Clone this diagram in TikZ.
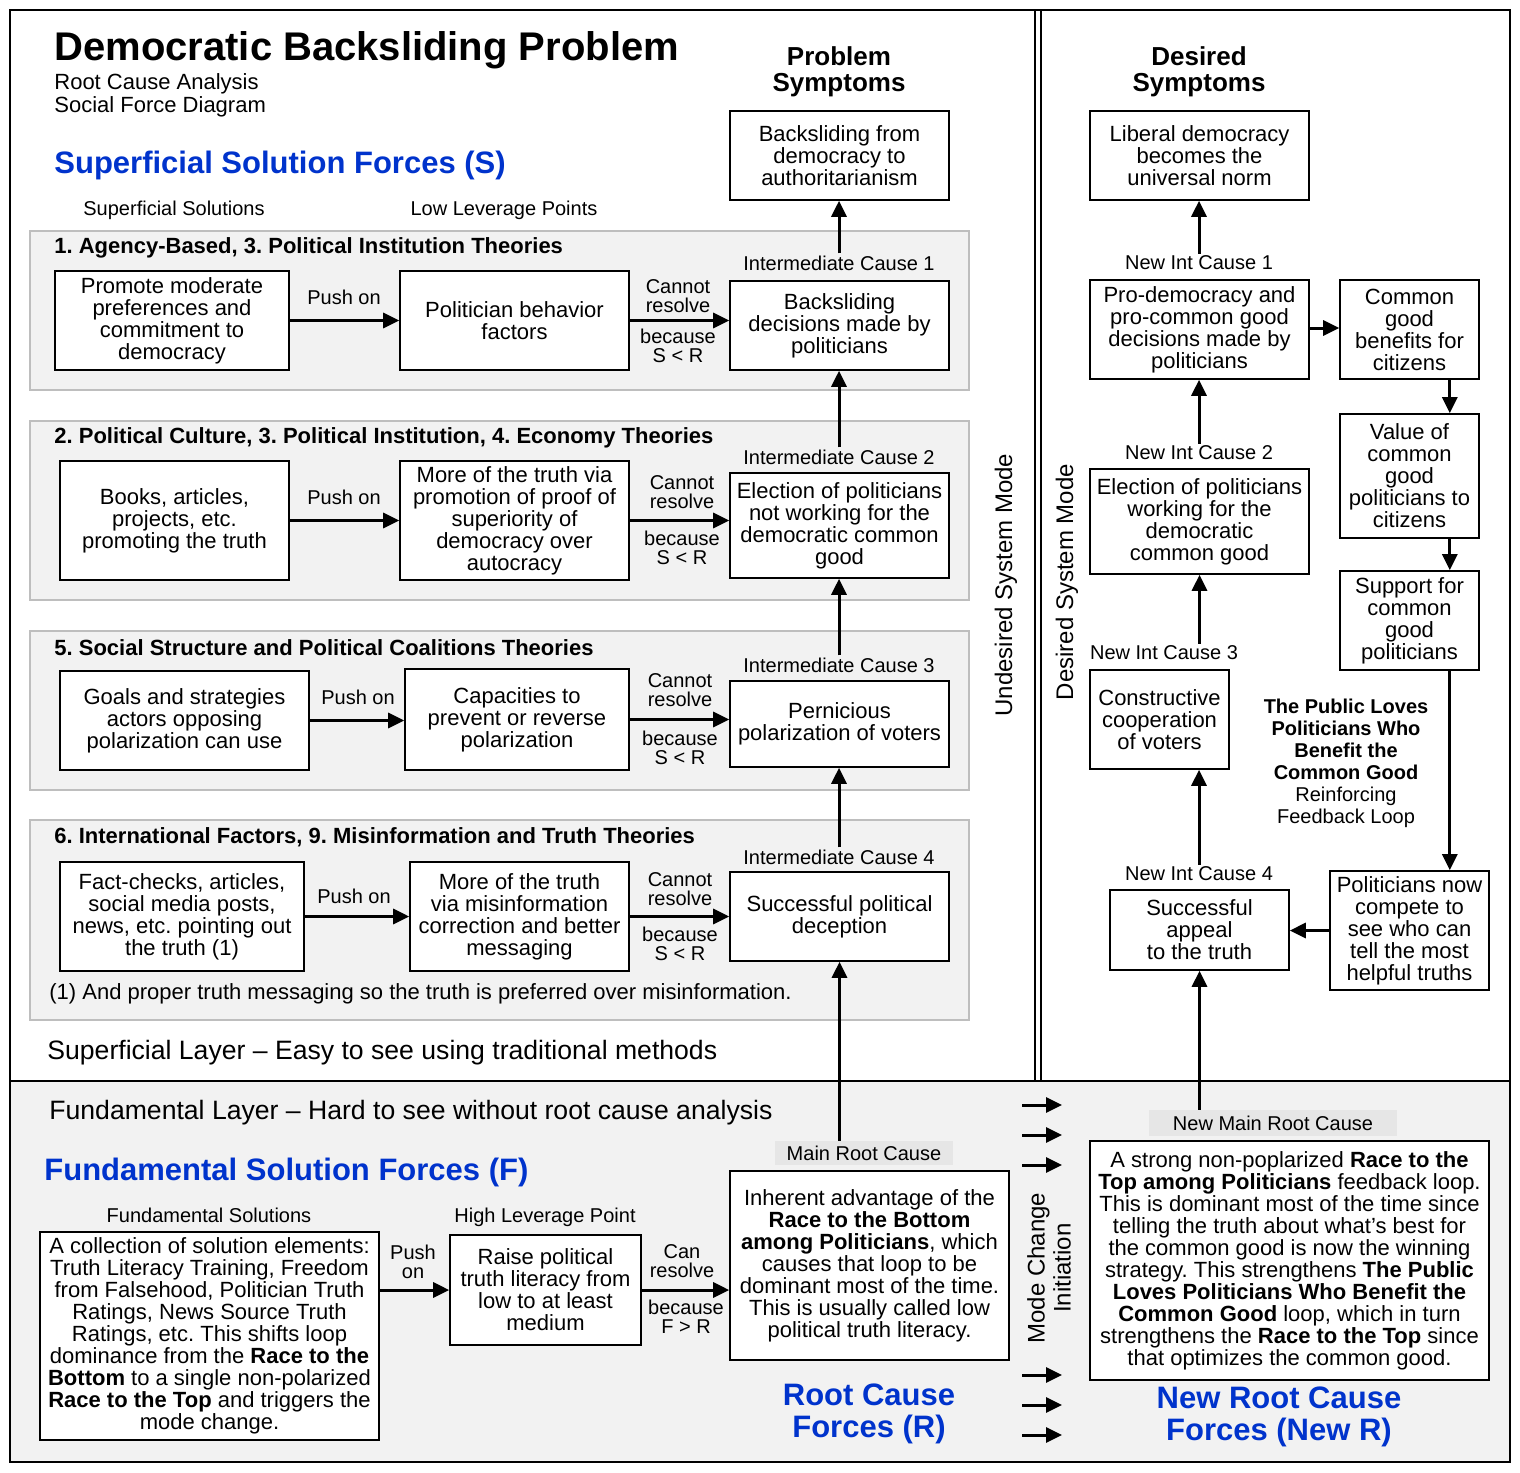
\documentclass[tikz,border=0pt]{standalone}
\usepackage{fontspec}
\setmainfont{Liberation Sans}
\usepackage{tikz}
\usetikzlibrary{arrows.meta,positioning,calc}
\definecolor{grisPanel}{RGB}{242,242,242}
\definecolor{grisBorde}{RGB}{190,190,190}
\definecolor{grisEtiqueta}{RGB}{230,230,230}
\definecolor{azulFuerza}{RGB}{0,51,204}
\tikzstyle{edge} =[-{Triangle[length=8pt,width=7.5pt]}, line width=1.5pt]
\tikzstyle{box}  =[draw, fill=white, line width=0.8pt, align=center,
                   inner sep=1pt, font=\fontsize{11}{11}\selectfont]
\tikzstyle{panel}=[draw=grisBorde, fill=grisPanel, line width=1pt]
\tikzstyle{tag}  =[align=center, inner sep=1pt]
\tikzstyle{small}=[tag, font=\fontsize{10}{9.5}\selectfont]
\tikzstyle{theory}=[anchor=west, inner sep=0pt,
                   font=\bfseries\fontsize{11}{11}\selectfont]
\tikzstyle{force}=[align=center, inner sep=0pt, text=azulFuerza,
                   font=\bfseries\fontsize{15.5}{16}\selectfont]
\tikzstyle{head} =[align=center, inner sep=0pt,
                   font=\bfseries\fontsize{13}{13}\selectfont]

\begin{document}
\frenchspacing
\begin{tikzpicture}[x=0.5pt, y=-0.5pt,
    every node/.style={font=\fontsize{10}{11}\selectfont}]
    \useasboundingbox (0,0) rectangle (1520,1472);

    % frame and layers
    \fill[grisPanel] (10,1081) rectangle (1510,1462);
    \draw[line width=1pt] (10,10) rectangle (1510,1462);
    \draw[line width=1pt] (10,1081) -- (1510,1081);
    \foreach \x in {1035,1041}
        \draw[line width=1pt] (\x,10) -- (\x,1081);

    % headings
    \node[anchor=base west, inner sep=0pt, font=\bfseries\fontsize{20}{22}\selectfont] (title) at (54,61) {Democratic Backsliding Problem};
    \node[anchor=base west, inner sep=0pt, font=\fontsize{11}{11.5}\selectfont] (sub1) at (54,89) {Root Cause Analysis};
    \node[anchor=base west, inner sep=0pt, font=\fontsize{11}{11.5}\selectfont] (sub2) at (54,112) {Social Force Diagram};
    \node[force, anchor=base west] (forceS) at (54,173) {Superficial Solution Forces (S)};
    \node[anchor=base, inner sep=0pt] (colsol) at (174,215) {Superficial Solutions};
    \node[anchor=base, inner sep=0pt] (collev) at (504,215) {Low Leverage Points};
    \node[head] (headP) at (839,72) {Problem\\Symptoms};
    \node[head] (headD) at (1199,72) {Desired\\Symptoms};

    % theory panels
    \foreach \ya/\yb in {231/390,421/600,631/790,820/1020}
        \draw[panel] (30,\ya) rectangle (969,\yb);
    \node[theory] (th1) at (54,248) {1. Agency-Based, 3. Political Institution Theories};
    \node[theory] (th2) at (54,438) {2. Political Culture, 3. Political Institution, 4. Economy Theories};
    \node[theory] (th3) at (54,648) {5. Social Structure and Political Coalitions Theories};
    \node[theory] (th4) at (54,837) {6. International Factors, 9. Misinformation and Truth Theories};
    \node[anchor=west, inner sep=0pt, font=\fontsize{11}{11}\selectfont] (note) at (49,994) {(1) And proper truth messaging so the truth is preferred over misinformation.};

    % symptom and intermediate causes
    \node (sym) [box, minimum width=109.5pt, minimum height=44.5pt] at (839.5,155.5) {Backsliding from\\democracy to\\authoritarianism};
    \node (int1) [box, minimum width=109.5pt, minimum height=44.5pt] at (839.5,325.5) {Backsliding\\decisions made by\\politicians};
    \node (int2) [box, minimum width=109.5pt, minimum height=52.5pt] at (839.5,525.5) {Election of politicians\\not working for the\\democratic common\\good};
    \node (int3) [box, minimum width=109.5pt, minimum height=43pt] at (839.5,724) {Pernicious\\polarization of voters};
    \node (int4) [box, minimum width=109.5pt, minimum height=44.5pt] at (839.5,916.5) {Successful political\\deception};
    \node (tint1) [tag] at (839,263) {Intermediate Cause 1};
    \node (tint2) [tag] at (839,457) {Intermediate Cause 2};
    \node (tint3) [tag] at (839,665) {Intermediate Cause 3};
    \node (tint4) [tag] at (839,857) {Intermediate Cause 4};

    % superficial solutions and low leverage points
    \node (sol1) [box, minimum width=117pt, minimum height=49.5pt] at (172,320.5) {Promote moderate\\preferences and\\commitment to\\democracy};
    \node (lev1) [box, minimum width=114.5pt, minimum height=49.5pt] at (514.5,320.5) {Politician behavior\\factors};
    \node (sol2) [box, minimum width=114.5pt, minimum height=59.5pt] at (174.5,520.5) {Books, articles,\\projects, etc.\\promoting the truth};
    \node (lev2) [box, minimum width=114.5pt, minimum height=59.5pt] at (514.5,520.5) {More of the truth via\\promotion of proof of\\superiority of\\democracy over\\autocracy};
    \node (sol3) [box, minimum width=124.5pt, minimum height=49.5pt] at (184.5,720.5) {Goals and strategies\\actors opposing\\polarization can use};
    \node (lev3) [box, minimum width=112pt, minimum height=50.5pt] at (517,719.5) {Capacities to\\prevent or reverse\\polarization};
    \node (sol4) [box, minimum width=122pt, minimum height=54.5pt] at (182,916.5) {Fact-checks, articles,\\social media posts,\\news, etc. pointing out\\the truth (1)};
    \node (lev4) [box, minimum width=109.5pt, minimum height=54.5pt] at (519.5,916.5) {More of the truth\\via misinformation\\correction and better\\messaging};

    \node (push1) [tag] at (344,297) {Push on};
    \node (push2) [tag] at (344,497) {Push on};
    \node (push3) [tag] at (358,697) {Push on};
    \node (push4) [tag] at (354,896) {Push on};
    \node (cant1) [small] at (678,296) {Cannot\\resolve};
    \node (cant2) [small] at (682,492) {Cannot\\resolve};
    \node (cant3) [small] at (680,690) {Cannot\\resolve};
    \node (cant4) [small] at (680,889) {Cannot\\resolve};
    \node (bec1) [small] at (678,346) {because\\S < R};
    \node (bec2) [small] at (682,548) {because\\S < R};
    \node (bec3) [small] at (680,748) {because\\S < R};
    \node (bec4) [small] at (680,944) {because\\S < R};

    \foreach \i in {1,...,4} {
        \draw [edge] (sol\i) -- (sol\i -| lev\i.west);
        \draw [edge] (lev\i.east) -- (lev\i.east -| int\i.west);
    }
    \draw [edge] (tint1.north) -- (tint1.north |- sym.south);
    \foreach \i/\j in {2/1,3/2,4/3}
        \draw [edge] (tint\i.north) -- (tint\i.north |- int\j.south);

    \node[anchor=west, inner sep=0pt, font=\fontsize{13.3}{14}\selectfont] (suplayer) at (47,1053) {Superficial Layer -- Easy to see using traditional methods};

    % fundamental layer
    \node[anchor=west, inner sep=0pt, font=\fontsize{13.3}{14}\selectfont] (funlayer) at (49,1113) {Fundamental Layer -- Hard to see without root cause analysis};
    \node[force, anchor=base west] (forceF) at (44,1180) {Fundamental Solution Forces (F)};
    \node (colfun) [tag] at (209,1215) {Fundamental Solutions};
    \node (colhigh) [tag] at (545,1217) {High Leverage Point};
    \node (fun) [box, minimum width=169.5pt, minimum height=104pt] at (209.5,1336) {A collection of solution elements:\\Truth Literacy Training, Freedom\\from Falsehood, Politician Truth\\Ratings, News Source Truth\\Ratings, etc. This shifts loop\\dominance from the \textbf{Race to the}\\\textbf{Bottom} to a single non-polarized\\\textbf{Race to the Top} and triggers the\\mode change.};
    \node (high) [box, minimum width=95.5pt, minimum height=55pt] at (545.5,1290) {Raise political\\truth literacy from\\low to at least\\medium};
    \node (mainlab) [tag, fill=grisEtiqueta, minimum width=89pt, minimum height=12pt, inner sep=0pt] at (864,1153) {Main Root Cause};
    \node (root) [box, minimum width=139.5pt, minimum height=94.5pt] at (869.5,1265.5) {Inherent advantage of the\\\textbf{Race to the Bottom}\\\textbf{among Politicians}, which\\causes that loop to be\\dominant most of the time.\\This is usually called low\\political truth literacy.};
    \node (pushF) [small] at (413,1262) {Push\\on};
    \node (can) [small] at (682,1261) {Can\\resolve};
    \node (becF) [small] at (686,1317) {because\\F > R};
    \draw [edge] (high.west -| fun.east) -- (high.west);
    \draw [edge] (high.east) -- (high.east -| root.west);
    \draw [edge] (mainlab.north -| int4.south) -- (int4.south);
    \node[force] (forceR) at (869,1414) {Root Cause\\Forces (R)};

    % mode change
    \foreach \y [count=\i] in {1105,1135,1165,1375,1405,1435} {
        \coordinate (mc\i) at (1022,\y);
        \draw [edge] (mc\i) -- ++(40,0);
    }
    \node[rotate=90, align=center, inner sep=0pt, font=\fontsize{12}{13}\selectfont] (mode) at (1049,1268) {Mode Change\\Initiation};
    \node[rotate=90, inner sep=0pt, font=\fontsize{12}{13}\selectfont] (undes) at (1006,585) {Undesired System Mode};
    \node[rotate=90, inner sep=0pt, font=\fontsize{12}{13}\selectfont] (des) at (1067,582) {Desired System Mode};

    % desired mode
    \node (dsym) [box, minimum width=109.5pt, minimum height=44.5pt] at (1199.5,155.5) {Liberal democracy\\becomes the\\universal norm};
    \node (new1) [box, minimum width=109.5pt, minimum height=49.5pt] at (1199.5,329.5) {Pro-democracy and\\pro-common good\\decisions made by\\politicians};
    \node (new2) [box, minimum width=109.5pt, minimum height=52.5pt] at (1199.5,521.5) {Election of politicians\\working for the\\democratic\\common good};
    \node (new3) [box, minimum width=69.5pt, minimum height=49.5pt] at (1159.5,719.5) {Constructive\\cooperation\\of voters};
    \node (new4) [box, minimum width=89.5pt, minimum height=40pt] at (1199.5,930) {Successful\\appeal\\to the truth};
    \node (nint1) [tag] at (1199,263) {New Int Cause 1};
    \node (nint2) [tag] at (1199,453) {New Int Cause 2};
    \node (nint3) [tag] at (1164,653) {New Int Cause 3};
    \node (nint4) [tag] at (1199,874) {New Int Cause 4};
    \node (benefit) [box, minimum width=69.5pt, minimum height=49.5pt] at (1409.5,329.5) {Common\\good\\benefits for\\citizens};
    \node (value) [box, minimum width=69.5pt, minimum height=62pt] at (1409.5,476) {Value of\\common\\good\\politicians to\\citizens};
    \node (support) [box, minimum width=69.5pt, minimum height=49.5pt] at (1409.5,620.5) {Support for\\common\\good\\politicians};
    \node (compete) [box, minimum width=79.5pt, minimum height=59.5pt] at (1409.5,930.5) {Politicians now\\compete to\\see who can\\tell the most\\helpful truths};
    \node (loop) [tag] at (1346,763) {\textbf{The Public Loves}\\\textbf{Politicians Who}\\\textbf{Benefit the}\\\textbf{Common Good}\\Reinforcing\\Feedback Loop};

    \draw [edge] (nint1.north) -- (nint1.north |- dsym.south);
    \draw [edge] (nint2.north) -- (nint2.north |- new1.south);
    \draw [edge] (nint3.north -| new2.south) -- (new2.south);
    \draw [edge] (nint4.north) -- (nint4.north |- new3.south);
    \draw [edge] (new1.east |- 0,328) -- (benefit.west |- 0,328);
    \draw [edge] ([xshift=-15pt]benefit.south east) -- ([xshift=-15pt]value.north east);
    \draw [edge] ([xshift=-15pt]value.south east) -- ([xshift=-15pt]support.north east);
    \draw [edge] ([xshift=-15pt]support.south east) coordinate (loopdown) -- (loopdown |- compete.north);
    \draw [edge] (compete.west) -- (compete.west -| new4.east);

    % new root cause
    \node (newlab) [tag, fill=grisEtiqueta, minimum width=124pt, minimum height=13pt, inner sep=0pt] at (1273,1123) {New Main Root Cause};
    \node (newroot) [box, minimum width=199.5pt, minimum height=119.5pt] at (1289.5,1260.5) {A strong non-poplarized \textbf{Race to the}\\\textbf{Top among Politicians} feedback loop.\\This is dominant most of the time since\\telling the truth about what’s best for\\the common good is now the winning\\strategy. This strengthens \textbf{The Public}\\\textbf{Loves Politicians Who Benefit the}\\\textbf{Common Good} loop, which in turn\\strengthens the \textbf{Race to the Top} since\\that optimizes the common good.};
    \draw [edge] (newlab.north -| new4.south) -- (new4.south);
    \node[force] (forceNR) at (1279,1417) {New Root Cause\\Forces (New R)};
\end{tikzpicture}
\end{document}
